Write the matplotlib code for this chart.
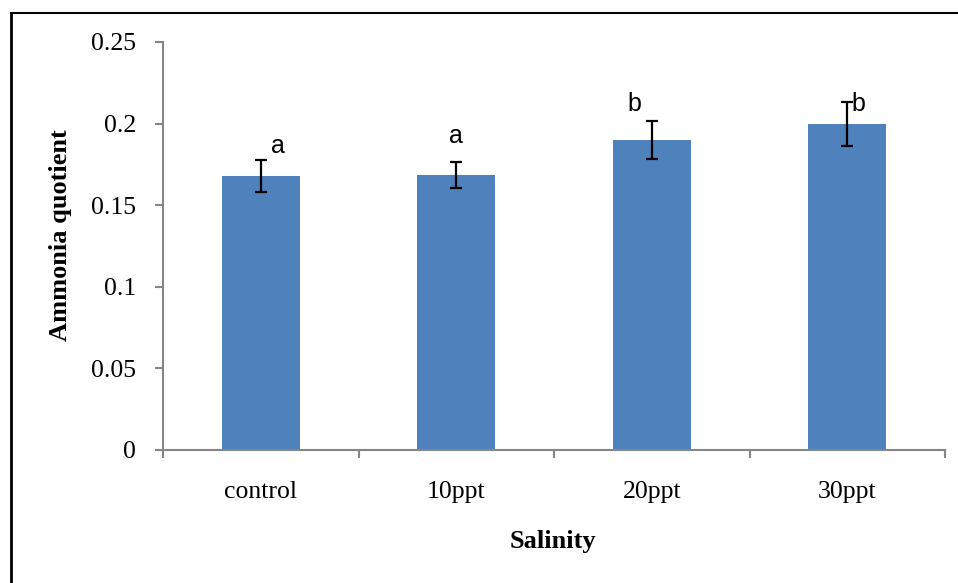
import matplotlib
matplotlib.use("Agg")
import matplotlib.pyplot as plt
from matplotlib.lines import Line2D
import numpy as np

categories = ["control", "10ppt", "20ppt", "30ppt"]
values = [0.168, 0.1685, 0.190, 0.1995]
errors = [0.0097, 0.0078, 0.0117, 0.0135]
letters = ["a", "a", "b", "b"]
letter_dx = [0.087, 0.0, -0.087, 0.056]
letter_dy = [0.0043, 0.012, 0.006, -0.0055]
yticks = [0, 0.05, 0.1, 0.15, 0.2, 0.25]
ytick_labels = ["0", "0.05", "0.1", "0.15", "0.2", "0.25"]

W, H = 958, 583
fig = plt.figure(figsize=(W / 100, H / 100), dpi=100)
ax = fig.add_axes([163 / W, 1 - 450 / H, (945 - 163) / W, (450 - 42) / H])

x = np.arange(len(categories))
ax.bar(x, values, width=0.4, color="#4F81BD", edgecolor="none", zorder=2)
ax.errorbar(x, values, yerr=errors, fmt="none", ecolor="black",
            elinewidth=1.6, capsize=4.5, capthick=1.6, zorder=3)

for i, (v, e, l) in enumerate(zip(values, errors, letters)):
    ax.text(i + letter_dx[i], v + e + letter_dy[i], l, ha="center", va="baseline",
            fontsize=18, family="Liberation Sans", color="black", zorder=4)

ax.set_xlim(-0.5, len(categories) - 0.5)
ax.set_ylim(0, 0.25)
ax.set_yticks(yticks)
ax.set_yticklabels(ytick_labels)
ax.set_xticks(x)
ax.set_xticklabels(categories)
ax.set_xticks(np.arange(-0.5, len(categories), 1.0), minor=True)

spine_color = "#868686"
for s in ["top", "right"]:
    ax.spines[s].set_visible(False)
for s in ["left", "bottom"]:
    ax.spines[s].set_color(spine_color)
    ax.spines[s].set_linewidth(1.5)

ax.tick_params(axis="y", direction="out", length=6, width=1.5, color=spine_color,
               pad=13.5, labelsize=18.5)
ax.tick_params(axis="x", which="major", length=0, pad=22, labelsize=18.5)
ax.tick_params(axis="x", which="minor", direction="out", length=6, width=1.5,
               color=spine_color)
for lab in ax.get_xticklabels() + ax.get_yticklabels():
    lab.set_family("Liberation Serif")

fig.text(61 / W, 1 - 235 / H, "Ammonia quotient", rotation=90, ha="center", va="center",
         fontsize=19, fontweight="bold", family="Liberation Serif")
fig.text(553 / W, 1 - 548 / H, "Salinity", ha="center", va="baseline",
         fontsize=19, fontweight="bold", family="Liberation Serif")

# outer frame
fig.add_artist(Line2D([10.5 / W, 10.5 / W], [0, 1 - 12.5 / H], transform=fig.transFigure,
                      color="black", linewidth=2))
fig.add_artist(Line2D([10.5 / W, 1], [1 - 12.8 / H, 1 - 12.8 / H], transform=fig.transFigure,
                      color="black", linewidth=1.5))

fig.savefig("out.png", dpi=100)
